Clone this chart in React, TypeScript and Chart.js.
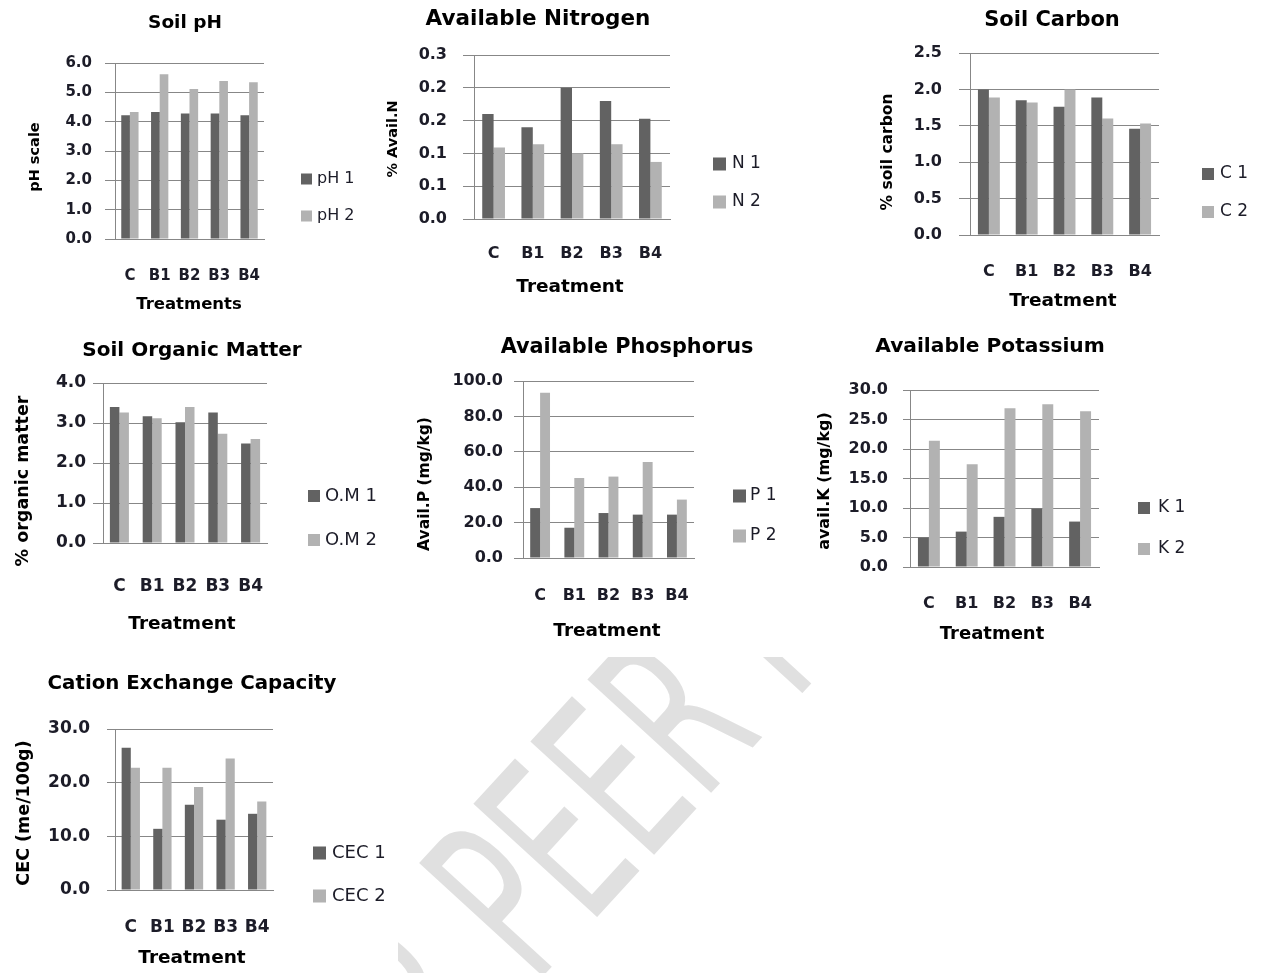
import React, { useEffect, useRef } from 'react';
import { Chart, registerables } from 'chart.js';

Chart.register(...registerables);

// ---------- data ----------
const treatments = ['C', 'B1', 'B2', 'B3', 'B4'];

const ph1 = [4.22, 4.33, 4.28, 4.28, 4.22];
const ph2 = [4.33, 5.62, 5.11, 5.39, 5.34];
const phTicks = ['0.0', '1.0', '2.0', '3.0', '4.0', '5.0', '6.0'];

const n1 = [0.16, 0.14, 0.2, 0.18, 0.153];
const n2 = [0.109, 0.114, 0.1, 0.114, 0.087];
const nTicks = ['0.0', '0.1', '0.1', '0.2', '0.2', '0.3'];

const c1 = [2.0, 1.85, 1.76, 1.89, 1.46];
const c2 = [1.89, 1.82, 2.0, 1.6, 1.53];
const cTicks = ['0.0', '0.5', '1.0', '1.5', '2.0', '2.5'];

const om1 = [3.4, 3.17, 3.02, 3.26, 2.49];
const om2 = [3.26, 3.12, 3.4, 2.73, 2.6];
const omTicks = ['0.0', '1.0', '2.0', '3.0', '4.0'];

const p1 = [28.2, 17.1, 25.4, 24.5, 24.5];
const p2 = [93.4, 45.2, 46.0, 54.2, 33.0];
const pTicks = ['0.0', '20.0', '40.0', '60.0', '80.0', '100.0'];

const k1 = [5.0, 6.0, 8.5, 9.9, 7.7];
const k2 = [21.4, 17.4, 26.9, 27.6, 26.4];
const kTicks = ['0.0', '5.0', '10.0', '15.0', '20.0', '25.0', '30.0'];

const cec1 = [26.5, 11.4, 15.9, 13.1, 14.2];
const cec2 = [22.8, 22.8, 19.2, 24.5, 16.5];
const cecTicks = ['0.0', '10.0', '20.0', '30.0'];

// ---------- styles ----------
const COLORS = ['#626262', '#b2b2b2'];
const GRID = '#878787';
const TXT = '#1c1c28';
const FONT = '"DejaVu Sans", sans-serif';

type Spec = {
  id: string;
  title: string;
  yTitle: string;
  xTitle: string;
  names: string[];
  values: number[][];
  yMax: number;
  yStep: number;
  yTicks: string[];
  box: { x: number; y: number; w: number; h: number };
  plot: { l: number; t: number; r: number; b: number };
  titlePos: [number, number];
  titleSize: number;
  yTitlePos: [number, number];
  yTitleSize: number;
  xTitlePos: [number, number];
  xTitleSize: number;
  tickSize: number;
  tickLen: number;
  tickPad: number;
  xTickSize: number;
  xTickY: number;
  legend: { x: number; y: number[]; sq: number; tx: number; size: number };
};

const specs: Spec[] = [
  {
    id: 'ph', title: 'Soil pH', yTitle: 'pH scale', xTitle: 'Treatments',
    names: ['pH 1', 'pH 2'], values: [ph1, ph2], yMax: 6, yStep: 1, yTicks: phTicks,
    box: { x: 0, y: 0, w: 395, h: 325 }, plot: { l: 115, t: 63, r: 264, b: 239 },
    titlePos: [185, 23], titleSize: 18.5,
    yTitlePos: [35, 157], yTitleSize: 14.5,
    xTitlePos: [189, 305], xTitleSize: 16.5,
    tickSize: 15, tickLen: 10, tickPad: 13, xTickSize: 15, xTickY: 276,
    legend: { x: 301, y: [179, 216], sq: 11, tx: 317, size: 16 },
  },
  {
    id: 'n', title: 'Available Nitrogen', yTitle: '% Avail.N', xTitle: 'Treatment',
    names: ['N 1', 'N 2'], values: [n1, n2], yMax: 0.25, yStep: 0.05, yTicks: nTicks,
    box: { x: 380, y: 0, w: 420, h: 305 }, plot: { l: 474, t: 55, r: 670, b: 219 },
    titlePos: [538, 19], titleSize: 21.5,
    yTitlePos: [393, 139], yTitleSize: 14.5,
    xTitlePos: [570, 287], xTitleSize: 18.5,
    tickSize: 16, tickLen: 11, tickPad: 16, xTickSize: 16, xTickY: 254,
    legend: { x: 713, y: [164, 202], sq: 13, tx: 732, size: 17 },
  },
  {
    id: 'c', title: 'Soil Carbon', yTitle: '% soil carbon', xTitle: 'Treatment',
    names: ['C 1', 'C 2'], values: [c1, c2], yMax: 2.5, yStep: 0.5, yTicks: cTicks,
    box: { x: 850, y: 0, w: 413, h: 320 }, plot: { l: 970, t: 53, r: 1159, b: 235 },
    titlePos: [1052, 21], titleSize: 21,
    yTitlePos: [888, 152], yTitleSize: 15.5,
    xTitlePos: [1063, 301], xTitleSize: 18.5,
    tickSize: 16, tickLen: 11, tickPad: 17, xTickSize: 16, xTickY: 272,
    legend: { x: 1202, y: [174, 212], sq: 12, tx: 1220, size: 17 },
  },
  {
    id: 'om', title: 'Soil Organic Matter', yTitle: '% organic matter', xTitle: 'Treatment',
    names: ['O.M 1', 'O.M 2'], values: [om1, om2], yMax: 4, yStep: 1, yTicks: omTicks,
    box: { x: 0, y: 330, w: 400, h: 320 }, plot: { l: 103, t: 383, r: 267, b: 543 },
    titlePos: [192, 351], titleSize: 20,
    yTitlePos: [23, 481], yTitleSize: 17.5,
    xTitlePos: [182, 624], xTitleSize: 18.5,
    tickSize: 17, tickLen: 10, tickPad: 7, xTickSize: 17, xTickY: 587,
    legend: { x: 308, y: [496, 540], sq: 12, tx: 325, size: 18 },
  },
  {
    id: 'p', title: 'Available Phosphorus', yTitle: 'Avail.P (mg/kg)', xTitle: 'Treatment',
    names: ['P 1', 'P 2'], values: [p1, p2], yMax: 100, yStep: 20, yTicks: pTicks,
    box: { x: 400, y: 330, w: 400, h: 320 }, plot: { l: 523, t: 381, r: 694, b: 558 },
    titlePos: [627, 348], titleSize: 20.8,
    yTitlePos: [425, 484], yTitleSize: 15.5,
    xTitlePos: [607, 631], xTitleSize: 18.5,
    tickSize: 16, tickLen: 9, tickPad: 11, xTickSize: 16, xTickY: 596,
    legend: { x: 733, y: [496, 536], sq: 13, tx: 750, size: 17 },
  },
  {
    id: 'k', title: 'Available Potassium', yTitle: 'avail.K (mg/kg)', xTitle: 'Treatment',
    names: ['K 1', 'K 2'], values: [k1, k2], yMax: 30, yStep: 5, yTicks: kTicks,
    box: { x: 800, y: 330, w: 463, h: 320 }, plot: { l: 910, t: 390, r: 1099, b: 567 },
    titlePos: [990, 347], titleSize: 20.2,
    yTitlePos: [825, 481], yTitleSize: 16,
    xTitlePos: [992, 634], xTitleSize: 18,
    tickSize: 16, tickLen: 7, tickPad: 15, xTickSize: 16, xTickY: 604,
    legend: { x: 1138, y: [508, 549], sq: 12, tx: 1158, size: 17 },
  },
  {
    id: 'cec', title: 'Cation Exchange Capacity', yTitle: 'CEC (me/100g)', xTitle: 'Treatment',
    names: ['CEC 1', 'CEC 2'], values: [cec1, cec2], yMax: 30, yStep: 10, yTicks: cecTicks,
    box: { x: 0, y: 660, w: 400, h: 313 }, plot: { l: 115, t: 729, r: 273, b: 890 },
    titlePos: [192, 684], titleSize: 19.8,
    yTitlePos: [24, 813], yTitleSize: 17.5,
    xTitlePos: [192, 958], xTitleSize: 18.5,
    tickSize: 17, tickLen: 8, tickPad: 17, xTickSize: 17, xTickY: 928,
    legend: { x: 313, y: [853, 896], sq: 13, tx: 332, size: 18 },
  },
];

function SoilChart({ spec }: { spec: Spec }) {
  const ref = useRef<HTMLCanvasElement>(null);
  useEffect(() => {
    const canvas = ref.current;
    if (!canvas) return;
    const { box, plot } = spec;
    const YW = plot.l - box.x;
    const XH = box.y + box.h - plot.b;
    const bx = box.x;
    const by = box.y;

    const overlay = {
      id: 'overlay_' + spec.id,
      afterDraw(chart: any) {
        const ctx = chart.ctx as CanvasRenderingContext2D;
        ctx.save();
        ctx.fillStyle = '#000';
        ctx.textAlign = 'center';
        ctx.textBaseline = 'middle';
        ctx.font = `bold ${spec.titleSize}px ${FONT}`;
        ctx.fillText(spec.title, spec.titlePos[0] - bx, spec.titlePos[1] - by);
        ctx.font = `bold ${spec.xTitleSize}px ${FONT}`;
        ctx.fillText(spec.xTitle, spec.xTitlePos[0] - bx, spec.xTitlePos[1] - by);
        ctx.save();
        ctx.translate(spec.yTitlePos[0] - bx, spec.yTitlePos[1] - by);
        ctx.rotate(-Math.PI / 2);
        ctx.font = `bold ${spec.yTitleSize}px ${FONT}`;
        ctx.fillText(spec.yTitle, 0, 0);
        ctx.restore();
        // legend
        const lg = spec.legend;
        chart.data.datasets.forEach((ds: any, i: number) => {
          const cy = lg.y[i] - by;
          ctx.fillStyle = ds.backgroundColor;
          ctx.fillRect(lg.x - bx, cy - lg.sq / 2, lg.sq, lg.sq);
          ctx.fillStyle = TXT;
          ctx.textAlign = 'left';
          ctx.font = `${lg.size}px ${FONT}`;
          ctx.fillText(ds.label, lg.tx - bx, cy);
        });
        ctx.restore();
      },
    };

    const chart = new Chart(canvas, {
      type: 'bar',
      data: {
        labels: treatments,
        datasets: spec.values.map((vals, i) => ({
          label: spec.names[i],
          data: vals,
          backgroundColor: COLORS[i],
          borderWidth: 0,
          categoryPercentage: 0.58,
          barPercentage: 1.0,
        })),
      },
      options: {
        animation: false,
        responsive: false,
        maintainAspectRatio: false,
        devicePixelRatio: 1,
        layout: {
          padding: { left: 0, top: plot.t - box.y, right: box.x + box.w - plot.r, bottom: 0 },
        },
        plugins: {
          legend: { display: false },
          title: { display: false },
          tooltip: { enabled: false },
        },
        scales: {
          x: {
            grid: { display: false, drawTicks: false },
            border: { display: true, color: GRID, width: 1 },
            ticks: {
              color: TXT,
              font: { family: FONT, size: spec.xTickSize, weight: 'bold' },
              padding: spec.xTickY - plot.b - spec.xTickSize * 0.6,
              maxRotation: 0,
              autoSkip: false,
            },
            afterFit: (s: any) => { s.height = XH; },
          },
          y: {
            min: 0,
            max: spec.yMax,
            grid: { color: GRID, lineWidth: 1, drawTicks: true, tickLength: spec.tickLen },
            border: { display: true, color: GRID, width: 1 },
            ticks: {
              stepSize: spec.yStep,
              color: TXT,
              font: { family: FONT, size: spec.tickSize, weight: 'bold' },
              padding: spec.tickPad,
              callback: (_v: any, i: number) => spec.yTicks[i] ?? '',
            },
            afterFit: (s: any) => { s.width = YW; },
          },
        },
      } as any,
      plugins: [overlay],
    });
    return () => chart.destroy();
  }, [spec]);

  return (
    <canvas
      ref={ref}
      width={spec.box.w}
      height={spec.box.h}
      style={{
        position: 'absolute',
        left: spec.box.x,
        top: spec.box.y,
        width: spec.box.w,
        height: spec.box.h,
      }}
    />
  );
}

export default function App() {
  return (
    <div
      style={{
        position: 'absolute',
        left: 0,
        top: 0,
        width: 1263,
        height: 973,
        background: '#fff',
        overflow: 'hidden',
      }}
    >
      <svg width={1263} height={973} style={{ position: 'absolute', left: 0, top: 0 }}>
        <defs>
          <clipPath id="wmclip">
            <rect x={398} y={657} width={865} height={316} />
          </clipPath>
        </defs>
        <g clipPath="url(#wmclip)">
          <g transform="translate(534 986) rotate(-47.5) scale(0.58 1)">
            <text x={0} y={0} fontSize={230} fontFamily="DejaVu Sans" fill="#e0e0e0">PEER REVIEW</text>
            <text x={0} y={0} fontSize={230} fontFamily="DejaVu Sans" fill="#e0e0e0" textAnchor="end">{'UNDER\u00A0'}</text>
          </g>
        </g>
      </svg>
      {specs.map((s) => (
        <SoilChart key={s.id} spec={s} />
      ))}
    </div>
  );
}
